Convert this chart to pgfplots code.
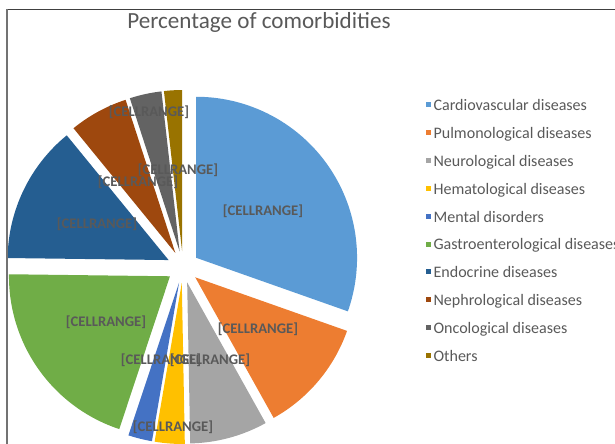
\documentclass[border=0pt]{standalone}
\usepackage{pgfplots}
\pgfplotsset{compat=1.18}
\usepackage{pgfplotstable}
\usepackage{fontspec}
\setmainfont{Carlito}
\definecolor{s0}{HTML}{5B9BD5}
\definecolor{s1}{HTML}{ED7D31}
\definecolor{s2}{HTML}{A5A5A5}
\definecolor{s3}{HTML}{FFC000}
\definecolor{s4}{HTML}{4472C4}
\definecolor{s5}{HTML}{70AD47}
\definecolor{s6}{HTML}{255E91}
\definecolor{s7}{HTML}{9E480E}
\definecolor{s8}{HTML}{636363}
\definecolor{s9}{HTML}{997300}
\definecolor{txt}{HTML}{595959}

% value (percent), label position (x, y from top)
\pgfplotstableread{
value lx ly
30.4 263 211
11.5 258 329
7.8 210 360
3.0 173 427
2.4 161 360
20.1 106 322
13.9 97 224
5.9 138 182
3.2 178 170
1.8 149 112
}\pietable

\begin{document}
\begin{tikzpicture}
\useasboundingbox (0,0) rectangle (615bp,444bp);
\clip (0,0) rectangle (615bp,444bp);
\begin{axis}[x=1bp,y=1bp,xmin=0,xmax=615,ymin=0,ymax=444,
  hide axis, clip=false,
  legend style={at={(axis cs:426,345)}, anchor=north west, draw=none, fill=none,
    font=\fontsize{16.1}{18}\selectfont, text=txt, inner sep=0pt,
    nodes={inner sep=0pt, text height=11bp, text depth=3.5bp},
    row sep=13.45bp,
    /tikz/every odd column/.append style={column sep=3bp}},
  legend cell align=left]
\addlegendimage{legend image code/.code={\fill[s0] (0bp,0.5bp) rectangle (4bp,4.5bp);}}
\addlegendentry{Cardiovascular diseases}
\addlegendimage{legend image code/.code={\fill[s1] (0bp,0.5bp) rectangle (4bp,4.5bp);}}
\addlegendentry{Pulmonological diseases}
\addlegendimage{legend image code/.code={\fill[s2] (0bp,0.5bp) rectangle (4bp,4.5bp);}}
\addlegendentry{Neurological diseases}
\addlegendimage{legend image code/.code={\fill[s3] (0bp,0.5bp) rectangle (4bp,4.5bp);}}
\addlegendentry{Hematological diseases}
\addlegendimage{legend image code/.code={\fill[s4] (0bp,0.5bp) rectangle (4bp,4.5bp);}}
\addlegendentry{Mental disorders}
\addlegendimage{legend image code/.code={\fill[s5] (0bp,0.5bp) rectangle (4bp,4.5bp);}}
\addlegendentry{Gastroenterological diseases}
\addlegendimage{legend image code/.code={\fill[s6] (0bp,0.5bp) rectangle (4bp,4.5bp);}}
\addlegendentry{Endocrine diseases}
\addlegendimage{legend image code/.code={\fill[s7] (0bp,0.5bp) rectangle (4bp,4.5bp);}}
\addlegendentry{Nephrological diseases}
\addlegendimage{legend image code/.code={\fill[s8] (0bp,0.5bp) rectangle (4bp,4.5bp);}}
\addlegendentry{Oncological diseases}
\addlegendimage{legend image code/.code={\fill[s9] (0bp,0.5bp) rectangle (4bp,4.5bp);}}
\addlegendentry{Others}

\gdef\cum{0}
\foreach \i in {0,...,9}{
  \pgfplotstablegetelem{\i}{value}\of\pietable
  \let\v\pgfplotsretval
  \pgfmathsetmacro\sa{90-\cum*3.6}
  \pgfmathsetmacro\ea{90-(\cum+\v)*3.6}
  \pgfmathsetmacro\md{(\sa+\ea)/2}
  \pgfmathsetmacro\ax{183+16*cos(\md)}
  \pgfmathsetmacro\ay{177+16*sin(\md)}
  \edef\tmp{\noexpand\fill[s\i] (axis cs:\ax,\ay) -- ++(\sa:161bp) arc[start angle=\sa, end angle=\ea, radius=161bp] -- cycle;}
  \tmp
  \pgfmathsetmacro\c{\cum+\v}
  \xdef\cum{\c}
}
\foreach \i in {0,...,9}{
  \pgfplotstablegetelem{\i}{lx}\of\pietable
  \let\lx\pgfplotsretval
  \pgfplotstablegetelem{\i}{ly}\of\pietable
  \pgfmathsetmacro\ly{444-\pgfplotsretval}
  \edef\tmp{\noexpand\node[font=\noexpand\bfseries\noexpand\fontsize{14.7}{17}\noexpand\selectfont, text=txt, inner sep=0pt] at (axis cs:\lx,\ly) {[CELLRANGE]};}
  \tmp
}
\node[font=\fontsize{23.2}{27}\selectfont, text=txt, inner sep=0pt] at (axis cs:259,422) {Percentage of comorbidities};
\end{axis}
\draw[line width=1.6bp, color=black!75] (6bp,434.5bp) -- (615bp,434.5bp);
\draw[line width=2bp, color=black!55] (7bp,435bp) -- (7bp,0bp);
\end{tikzpicture}
\end{document}
